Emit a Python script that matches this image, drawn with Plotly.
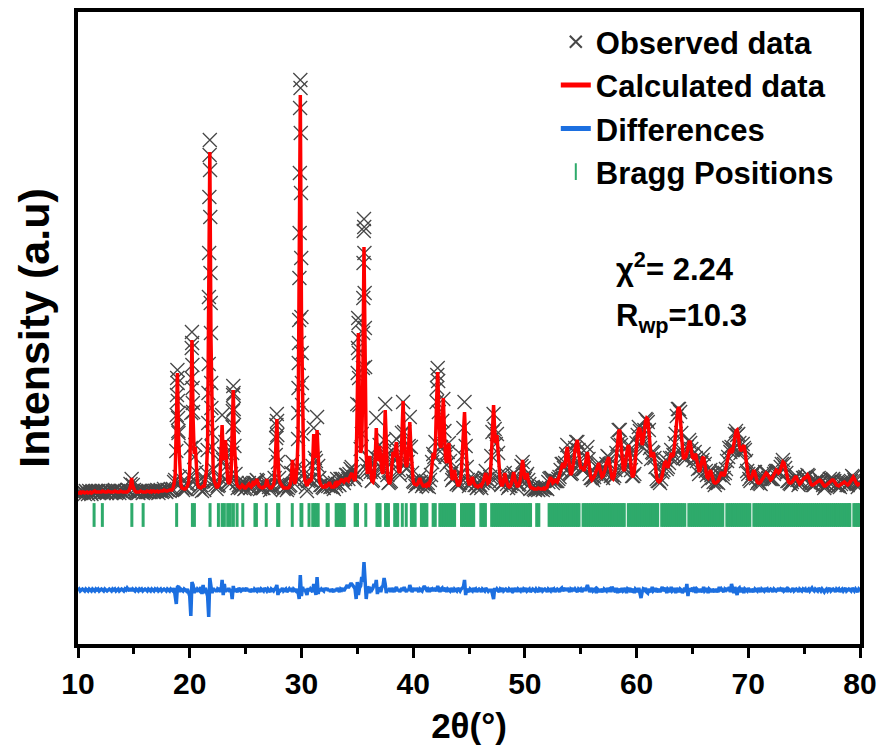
import plotly.graph_objects as go

# ---------------- data ----------------
# Profile sampled every 0.1 deg; one row per degree, starting at 10 deg.
start_deg = 10
calc_rows = [
    [0, 0, 1, 0, 1, 1, 0, 1, 1, 0],            # 10
    [1, 1, 0, 1, 1, 2, 1, 1, 1, 1],            # 11
    [1, 1, 2, 1, 1, 1, 1, 2, 1, 1],            # 12
    [1, 1, 1, 2, 1, 1, 1, 1, 2, 1],            # 13
    [1, 1, 1, 1, 1, 2, 3, 7, 15, 7],           # 14
    [3, 2, 1, 1, 1, 1, 2, 1, 1, 1],            # 15
    [1, 1, 2, 1, 1, 2, 1, 2, 2, 1],            # 16
    [2, 2, 1, 2, 2, 2, 2, 3, 2, 2],            # 17
    [2, 3, 3, 3, 3, 5, 9, 18, 56, 120],        # 18
    [56, 18, 9, 5, 4, 4, 4, 5, 7, 11],         # 19
    [23, 71, 153, 76, 39, 46, 23, 9, 6, 5],    # 20
    [5, 6, 7, 6, 12, 22, 49, 156, 341, 156],   # 21
    [49, 22, 12, 7, 6, 6, 8, 13, 33, 68],      # 22
    [38, 33, 53, 26, 12, 9, 11, 18, 49, 103],  # 23
    [49, 18, 10, 7, 6, 5, 6, 8, 7, 5],         # 24
    [5, 6, 8, 9, 7, 6, 8, 12, 9, 10],          # 25
    [14, 10, 7, 6, 5, 5, 6, 6, 8, 14],         # 26
    [8, 6, 5, 5, 6, 8, 14, 36, 74, 36],        # 27
    [14, 10, 8, 6, 5, 5, 5, 5, 5, 6],          # 28
    [9, 18, 33, 18, 9, 13, 25, 56, 182, 398],  # 29
    [182, 56, 25, 13, 8, 7, 10, 14, 12, 13],   # 30
    [29, 59, 36, 37, 63, 31, 13, 9, 7, 6],     # 31
    [6, 6, 9, 7, 8, 11, 8, 6, 6, 6],           # 32
    [9, 8, 12, 9, 10, 13, 14, 12, 11, 13],     # 33
    [15, 13, 12, 15, 18, 20, 16, 13, 12, 28],  # 34
    [81, 160, 86, 40, 46, 117, 246, 114, 38, 19],  # 35
    [25, 37, 20, 12, 11, 15, 33, 65, 38, 32],  # 36
    [47, 28, 22, 19, 41, 83, 41, 17, 11, 9],   # 37
    [14, 28, 41, 36, 45, 51, 35, 22, 20, 30],  # 38
    [58, 92, 58, 30, 26, 30, 48, 71, 45, 22],  # 39
    [12, 9, 8, 8, 9, 12, 15, 11, 8, 7],        # 40
    [7, 8, 7, 9, 8, 11, 18, 30, 40, 34],       # 41
    [50, 92, 121, 80, 48, 45, 70, 95, 62, 34], # 42
    [30, 40, 50, 33, 17, 13, 17, 23, 16, 10],  # 43
    [8, 8, 11, 18, 35, 62, 81, 52, 25, 13],    # 44
    [9, 9, 12, 16, 11, 8, 7, 7, 6, 7],         # 45
    [8, 7, 9, 12, 16, 20, 14, 10, 11, 18],     # 46
    [36, 64, 88, 62, 50, 58, 40, 20, 11, 8],   # 47
    [8, 12, 20, 14, 9, 7, 6, 7, 10, 16],       # 48
    [21, 14, 9, 7, 7, 9, 14, 25, 33, 24],      # 49
    [14, 15, 20, 13, 8, 6, 5, 5, 4, 4],        # 50
    [4, 4, 5, 4, 4, 4, 4, 5, 4, 5],            # 51
    [6, 10, 14, 16, 13, 10, 11, 14, 12, 11],   # 52
    [14, 18, 22, 27, 30, 25, 28, 40, 46, 35],  # 53
    [22, 18, 20, 26, 34, 44, 51, 53, 42, 30],  # 54
    [24, 26, 24, 22, 28, 37, 41, 33, 21, 15],  # 55
    [13, 14, 16, 19, 22, 27, 30, 25, 18, 16],  # 56
    [17, 20, 24, 30, 35, 36, 28, 19, 15, 14],  # 57
    [17, 25, 38, 52, 62, 63, 50, 33, 24, 22],  # 58
    [28, 38, 46, 48, 38, 25, 17, 16, 22, 35],  # 59
    [50, 60, 64, 65, 56, 48, 52, 63, 72, 75],  # 60
    [74, 62, 45, 36, 38, 41, 35, 24, 16, 12],  # 61
    [11, 12, 14, 18, 24, 30, 31, 27, 25, 30],  # 62
    [37, 40, 36, 38, 48, 62, 75, 84, 86, 80],  # 63
    [60, 42, 34, 35, 36, 40, 46, 51, 51, 44],  # 64
    [36, 35, 38, 38, 31, 24, 21, 24, 30, 35],  # 65
    [36, 30, 22, 16, 15, 19, 23, 20, 14, 11],  # 66
    [10, 10, 11, 12, 15, 19, 21, 19, 17, 19],  # 67
    [24, 30, 37, 42, 43, 40, 42, 48, 56, 62],  # 68
    [63, 58, 48, 42, 43, 47, 48, 42, 32, 23],  # 69
    [17, 14, 14, 16, 20, 23, 20, 15, 11, 10],  # 70
    [10, 11, 13, 15, 17, 19, 20, 19, 17, 14],  # 71
    [13, 14, 16, 18, 21, 23, 22, 20, 21, 25],  # 72
    [29, 31, 30, 25, 19, 14, 11, 10, 10, 11],  # 73
    [12, 14, 16, 16, 13, 10, 9, 10, 12, 14],   # 74
    [15, 15, 17, 18, 16, 12, 9, 8, 8, 9],      # 75
    [10, 11, 12, 13, 13, 12, 10, 8, 7, 7],     # 76
    [8, 9, 11, 12, 12, 13, 13, 12, 10, 8],     # 77
    [7, 7, 8, 9, 10, 11, 11, 10, 9, 8],        # 78
    [9, 11, 13, 15, 16, 14, 11, 9, 8, 9],      # 79
]
calc_last = 10  # value at 80.0 deg

# Difference (observed - calculated) on the same grid
diff_rows = [
    [0, 1, -1, 0, 1, 0, -1, 1, 0, -1],        # 10
    [1, 0, -1, 1, 0, -1, 1, 0, 1, -1],        # 11
    [0, 1, 0, -1, 1, 0, -1, 0, 1, 0],         # 12
    [-1, 1, 0, 1, -1, 0, 1, -1, 0, 1],        # 13
    [0, -1, 1, 0, 2, 1, -1, 2, -1, 1],        # 14
    [0, -1, 1, 0, -1, 1, 0, 1, -1, 0],        # 15
    [1, 0, -1, 1, 0, -1, 1, 0, -1, 1],        # 16
    [0, 1, -1, 0, 1, -1, 0, 1, 0, -1],        # 17
    [1, 0, -1, 1, 0, -1, 2, -5, -14, 3],      # 18
    [4, -2, 1, 0, -1, 1, 0, -1, 1, -2],       # 19
    [-6, -26, 8, 5, -3, 2, -2, 1, 0, -1],     # 20
    [3, -4, 5, -3, 2, -2, -6, -27, 12, 4],    # 21
    [-3, 2, -1, 1, -2, 1, 0, 2, -2, 10],      # 22
    [-5, 6, -2, 1, -1, 2, -2, 1, -9, 4],      # 23
    [-2, 1, 0, -2, 2, 1, -1, 0, 2, -1],       # 24
    [0, 2, -1, 1, -2, 0, 1, -2, 1, 0],        # 25
    [-1, 2, 0, -2, 1, 0, -1, 2, 0, -1],       # 26
    [1, 0, -2, 1, 0, -1, 1, 2, 5, -5],        # 27
    [1, -1, 0, 2, -1, 0, 1, -2, 0, 1],        # 28
    [-1, 2, -2, 1, 0, -1, 1, -2, -9, 15],     # 29
    [-6, 3, -1, 1, -2, -5, 2, -1, 1, 0],      # 30
    [-2, 6, -1, -5, 13, -4, 2, -1, 1, 0],     # 31
    [-1, 2, 0, 2, -1, 1, -2, 1, 0, -2],       # 32
    [1, -1, 2, 0, -2, 1, 0, 2, -1, 1],        # 33
    [3, 5, 2, 4, 6, 6, 5, 3, 1, -9],          # 34
    [8, -5, 2, 4, 13, 8, 28, 12, -9, 3],      # 35
    [2, -3, 1, 0, 2, 6, 3, 10, -4, 2],        # 36
    [1, -2, 3, 4, 12, 6, -3, 1, -1, 2],       # 37
    [-2, 2, 0, -2, 1, 3, -1, 1, -2, 1],       # 38
    [2, -1, 3, 0, -2, 1, -1, 5, 1, -2],       # 39
    [0, 2, -1, 2, 0, -2, 1, 0, -1, 2],        # 40
    [4, 2, 0, 1, -2, 2, 0, 1, -1, 2],         # 41
    [1, -1, 4, 1, -2, 1, 2, -1, 0, 2],        # 42
    [-2, 1, 0, -1, 2, 0, -2, 1, 0, -1],       # 43
    [2, 0, -1, 1, 2, 3, 10, -5, 1, 0],        # 44
    [-2, 1, 0, -1, 2, 0, 1, -2, 0, 1],        # 45
    [0, -2, 1, 0, -1, 2, 0, -1, 1, -2],       # 46
    [1, -3, -9, 2, -1, 1, 0, -2, 1, 0],       # 47
    [2, -1, 0, 1, 0, -2, 1, 0, -1, 2],        # 48
    [-1, 0, 2, -2, 1, 0, -1, 2, -2, 1],       # 49
    [0, 2, -1, 0, 1, -2, 0, 1, 0, -1],        # 50
    [1, 0, -2, 1, 0, 2, -1, 0, 1, 0],         # 51
    [-2, 1, 0, -1, 2, 0, 1, -2, 0, 1],        # 52
    [0, -2, 1, 2, -1, 0, 2, -1, 2, 0],        # 53
    [-2, 1, 0, 2, -1, 1, 0, -2, 1, 0],        # 54
    [1, -2, 0, 2, -1, 3, 5, 1, -2, 0],        # 55
    [2, -1, 0, 1, -3, 1, 0, -2, 1, 0],        # 56
    [-2, 1, 0, -1, 2, 0, 1, -2, 3, 1],        # 57
    [0, -2, 2, -3, 1, 0, -2, 2, -1, 0],       # 58
    [2, -3, 1, 0, 2, -2, 0, 1, -3, 1],        # 59
    [0, -2, 2, -3, -8, -2, 1, 0, 2, -2],      # 60
    [-3, 1, 0, -2, 3, -1, 0, 2, -2, 0],       # 61
    [1, -2, 0, 3, -1, 0, 2, -3, 1, 0],        # 62
    [-2, 3, -1, 0, 2, -3, 2, 0, -2, 1],       # 63
    [0, -3, 1, 2, -2, 6, -6, 2, -1, 0],       # 64
    [2, -2, 3, -3, 1, 0, -2, 1, 0, -2],       # 65
    [3, -1, 0, 2, -3, 1, 0, -2, 1, 0],        # 66
    [-2, 1, 0, -2, 3, -1, 1, 0, -2, 1],       # 67
    [0, 2, -1, 3, -2, 6, 1, -3, 3, 0],        # 68
    [-5, 1, 2, -2, 0, 2, -3, 1, 0, -1],       # 69
    [2, 0, -2, 1, 0, -2, 1, 0, -1, 2],        # 70
    [0, -2, 1, 0, -1, 2, 0, 1, -2, 0],        # 71
    [1, 0, -2, 1, 0, -1, 0, 2, -1, 1],        # 72
    [0, 2, -1, 0, 1, -2, 1, 0, -1, 0],        # 73
    [2, -1, 0, 1, 0, -2, 1, 0, -1, 1],        # 74
    [0, 1, -2, 0, 1, -1, 0, 2, 0, -1],        # 75
    [1, 0, -1, 2, 0, -1, 1, 0, -2, 0],        # 76
    [1, -1, 0, 2, -1, 0, 1, 0, -2, 1],        # 77
    [0, 1, -2, 0, 1, -1, 0, 2, -1, 0],        # 78
    [1, 0, -1, 2, 0, -1, 1, 0, -2, 1],        # 79
]
diff_last = 0

# Extra observed points recorded on the flanks of the strongest reflections
obs_extra_2theta = [
    18.84, 18.86, 18.88, 18.92, 18.94, 18.96, 18.98,
    20.14, 20.16, 20.18, 20.22, 20.24, 20.26, 20.28,
    21.66, 21.68, 21.72, 21.74, 21.76, 21.78, 21.82, 21.84, 21.86, 21.88, 21.92, 21.94, 21.96,
    23.84, 23.86, 23.88, 23.92, 23.94, 23.96,
    27.74, 27.76, 27.82, 27.84,
    29.72, 29.74, 29.76, 29.78, 29.82, 29.84, 29.86, 29.88, 29.92, 29.94, 29.96, 29.98, 30.02, 30.04, 30.06,
    35.04, 35.06, 35.08, 35.12, 35.14, 35.16,
    35.52, 35.54, 35.56, 35.58, 35.62, 35.64, 35.66, 35.68,
    42.14, 42.16, 42.24,
]
obs_extra_int = [
    78, 98, 115, 110, 92, 75, 62,
    80, 115, 145, 150, 128, 105, 90,
    70, 100, 196, 240, 296, 338, 323, 276, 220, 190, 110, 85, 60,
    66, 82, 98, 100, 84, 68,
    55, 68, 72, 58,
    80, 105, 130, 150, 215, 260, 320, 385, 405, 360, 300, 235, 140, 110, 88,
    120, 145, 175, 170, 140, 115,
    160, 195, 230, 262, 266, 240, 200, 165,
    105, 118, 112,
]

bragg_positions = [
    11.44, 12.18, 14.82, 15.83, 18.83, 20.24, 20.42, 21.82, 22.57, 22.9,
    23.1, 23.4, 23.64, 23.91, 24.24, 24.75, 25.84, 25.97, 26.85, 27.87,
    27.97, 29.18, 29.96, 30.04, 30.68, 31.01, 31.17, 31.33, 31.5, 32.3,
    32.4, 33.11, 33.27, 33.43, 33.6, 33.76, 33.84, 34.81, 35.02, 35.76,
    36.76, 36.9, 37.04, 37.53, 37.66, 37.79, 38.35, 38.49, 38.62, 39.03,
    39.38, 39.84, 40.0, 40.18, 40.74, 40.92, 41.08, 41.23, 41.79, 41.98,
    42.39, 42.55, 42.72, 42.88, 43.05, 43.22, 43.38, 43.55, 43.71, 44.33,
    44.5, 44.67, 44.84, 45.0, 45.17, 45.3, 45.42, 46.06, 46.22, 46.34,
    46.47, 47.03, 47.2, 47.37, 47.54, 47.71, 47.88, 48.05, 48.22, 48.39,
    48.56, 48.73, 48.9, 49.07, 49.24, 49.41, 49.58, 49.75, 49.92, 50.09,
    50.26, 50.4, 50.51, 51.06, 51.25, 52.17, 52.34, 52.51, 52.68, 52.85,
    53.02, 53.19, 53.36, 53.53, 53.7, 53.87, 54.04, 54.21, 54.38, 54.55,
    54.72, 54.85, 55.21, 55.38, 55.55, 55.72, 55.89, 56.06, 56.23, 56.4,
    56.57, 56.74, 56.91, 57.08, 57.25, 57.42, 57.59, 57.76, 57.93, 58.1,
    58.27, 58.44, 58.61, 58.78, 58.9, 59.26, 59.43, 59.6, 59.77, 59.94,
    60.11, 60.28, 60.45, 60.62, 60.79, 60.96, 61.13, 61.3, 61.47, 61.64,
    61.81, 61.89, 62.25, 62.42, 62.59, 62.76, 62.93, 63.1, 63.27, 63.44,
    63.61, 63.78, 63.95, 64.12, 64.32, 64.68, 64.85, 65.02, 65.19, 65.36,
    65.53, 65.7, 65.87, 66.04, 66.21, 66.38, 66.55, 66.72, 66.89, 67.06,
    67.23, 67.4, 67.57, 67.72, 68.08, 68.25, 68.42, 68.59, 68.76, 68.93,
    69.1, 69.27, 69.44, 69.61, 69.78, 69.95, 70.14, 70.5, 70.67, 70.84,
    71.01, 71.18, 71.35, 71.52, 71.69, 71.86, 72.03, 72.2, 72.37, 72.54,
    72.71, 72.88, 73.05, 73.22, 73.39, 73.56, 73.73, 73.9, 74.07, 74.24,
    74.41, 74.58, 74.75, 74.92, 75.09, 75.26, 75.43, 75.6, 75.77, 75.94,
    76.11, 76.28, 76.45, 76.62, 76.79, 76.96, 77.13, 77.3, 77.47, 77.64,
    77.81, 77.98, 78.15, 78.32, 78.49, 78.66, 78.83, 79.0, 79.09, 79.45,
    79.62, 79.79, 79.92,
]

series_names = ["Observed data", "Calculated data", "Differences", "Bragg Positions"]
chi2_text = "χ<sup>2</sup>= 2.24"
rwp_text = "R<sub>wp</sub>=10.3"

# --------------- plot-level placement (not data) ----------------
diff_offset = -97      # baseline for the difference curve
bragg_level = -22      # vertical centre of Bragg tick marks

# --------------- assemble the grid ----------------
two_theta, calc, diff = [], [], []
for r, (crow, drow) in enumerate(zip(calc_rows, diff_rows)):
    for i, (c, d) in enumerate(zip(crow, drow)):
        two_theta.append(round(start_deg + r + i / 10, 1))
        calc.append(c)
        diff.append(d)
two_theta.append(80.0)
calc.append(calc_last)
diff.append(diff_last)
obs = [c + d for c, d in zip(calc, diff)]

obs_x = two_theta + obs_extra_2theta
obs_y = obs + obs_extra_int

BOLD = "Liberation Sans, Arial, Helvetica, sans-serif"

fig = go.Figure()
fig.add_trace(go.Scatter(
    x=obs_x, y=obs_y, mode="markers", name=series_names[0],
    marker=dict(symbol="x-thin", size=14, color="#474747",
                line=dict(width=1.3, color="#474747")),
))
fig.add_trace(go.Scatter(
    x=two_theta, y=calc, mode="lines", name=series_names[1],
    line=dict(color="#ff0000", width=3.5),
))
fig.add_trace(go.Scatter(
    x=two_theta, y=[d + diff_offset for d in diff], mode="lines",
    name=series_names[2], line=dict(color="#1c6fe0", width=3.5),
))
fig.add_trace(go.Scatter(
    x=bragg_positions, y=[bragg_level] * len(bragg_positions), mode="markers",
    name=series_names[3],
    marker=dict(symbol="line-ns", size=17, color="#2eaa6b",
                line=dict(width=3, color="#2eaa6b")),
))

fig.add_annotation(x=58.0, y=226, xref="x", yref="y", text=chi2_text,
                   showarrow=False, xanchor="left", yanchor="middle",
                   font=dict(family=BOLD, size=31, color="black", weight="bold"))
fig.add_annotation(x=58.0, y=175, xref="x", yref="y", text=rwp_text,
                   showarrow=False, xanchor="left", yanchor="middle",
                   font=dict(family=BOLD, size=31, color="black", weight="bold"))

# The page adds an 8 px body margin, so the figure margins are reduced by 8 px
# on the left/top to land the plot frame where the reference has it.
fig.update_layout(
    width=886, height=750,
    margin=dict(l=70, r=34, t=4, b=114),
    paper_bgcolor="white", plot_bgcolor="white",
    showlegend=True,
    legend=dict(x=0.611, xanchor="left", y=0.995, yanchor="top",
                bgcolor="rgba(0,0,0,0)", borderwidth=0,
                font=dict(family=BOLD, size=31, color="black", weight="bold"),
                itemsizing="constant", itemwidth=30, tracegroupgap=0),
    xaxis=dict(
        range=[10, 80], tick0=10, dtick=10, ticks="outside", ticklen=10,
        tickwidth=3, tickcolor="black", showline=True, linewidth=4,
        linecolor="black", mirror=True, showgrid=False, zeroline=False,
        automargin=False,
        minor=dict(ticks="outside", ticklen=6, tickwidth=3, dtick=5,
                   tickcolor="black", showgrid=False),
        tickfont=dict(family=BOLD, size=30, color="black", weight="bold"),
        ticklabelstandoff=0,
        title=dict(text="2θ(°)", standoff=15,
                   font=dict(family=BOLD, size=35, color="black", weight="bold")),
    ),
    yaxis=dict(
        range=[-151, 481], showticklabels=False, ticks="", showline=True,
        linewidth=4, linecolor="black", mirror=True, showgrid=False,
        zeroline=False, automargin=False,
        title=dict(text="Intensity (a.u)", standoff=12,
                   font=dict(family=BOLD, size=43, color="black", weight="bold")),
    ),
)

fig.write_html("out.html")
